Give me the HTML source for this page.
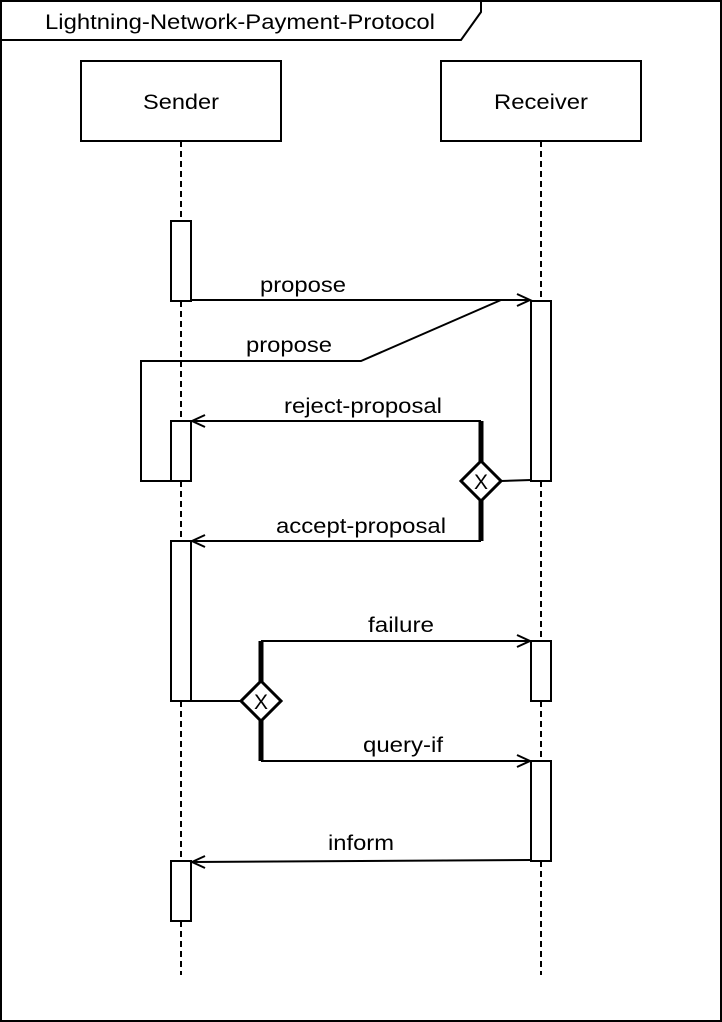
<!DOCTYPE html>
<html><head><style>body{margin:0;background:#fff}svg{display:block}</style></head><body>
<svg width="722" height="1022" xmlns="http://www.w3.org/2000/svg" font-family="Liberation Sans, Arial, sans-serif" font-size="21" fill="none" stroke="#000" stroke-width="2">
<rect x="1" y="1" width="720" height="1020" fill="#fff"/>
<path d="M1 40 H461 L481 12 V1"/>
<g fill="#000" stroke="none" text-anchor="middle">
<text x="240" y="29" textLength="390" lengthAdjust="spacingAndGlyphs">Lightning-Network-Payment-Protocol</text>
<text x="181" y="109" textLength="76" lengthAdjust="spacingAndGlyphs">Sender</text>
<text x="541" y="109" textLength="94" lengthAdjust="spacingAndGlyphs">Receiver</text>
<text x="303" y="292" textLength="86" lengthAdjust="spacingAndGlyphs">propose</text>
<text x="289" y="352" textLength="86" lengthAdjust="spacingAndGlyphs">propose</text>
<text x="363" y="413" textLength="158" lengthAdjust="spacingAndGlyphs">reject-proposal</text>
<text x="361" y="533" textLength="170" lengthAdjust="spacingAndGlyphs">accept-proposal</text>
<text x="401" y="632" textLength="66" lengthAdjust="spacingAndGlyphs">failure</text>
<text x="403" y="752" textLength="80" lengthAdjust="spacingAndGlyphs">query-if</text>
<text x="361" y="850" textLength="66" lengthAdjust="spacingAndGlyphs">inform</text>
</g>
<rect x="81" y="61" width="200" height="80"/>
<rect x="441" y="61" width="200" height="80"/>
<g stroke-dasharray="6,4">
<line x1="181" y1="141" x2="181" y2="975"/>
<line x1="541" y1="141" x2="541" y2="975"/>
</g>
<g fill="#fff">
<rect x="171" y="221" width="20" height="80"/>
<rect x="531" y="301" width="20" height="180"/>
<path d="M501 300 L361 361 H141 V481 H171" fill="none"/>
<rect x="171" y="421" width="20" height="60"/>
<rect x="171" y="541" width="20" height="160"/>
<rect x="531" y="641" width="20" height="60"/>
<rect x="531" y="761" width="20" height="100"/>
<rect x="171" y="861" width="20" height="60"/>
</g>
<path d="M191 300 H530 M517 294 L530 300 L517 306"/>
<path d="M481 421 H192 M205 415 L192 421 L205 427"/>
<path d="M481 541 H192 M205 535 L192 541 L205 547"/>
<path d="M501 481 L531 480"/>
<line x1="481" y1="421" x2="481" y2="465" stroke-width="5"/>
<line x1="481" y1="497" x2="481" y2="541" stroke-width="5"/>
<path d="M481 461 L501 481 L481 501 L461 481 Z" fill="#fff" stroke-width="3"/>
<text x="481" y="489" font-size="21" fill="#000" stroke="none" text-anchor="middle">X</text>
<path d="M191 701 H241"/>
<path d="M261 641 H530 M517 635 L530 641 L517 647"/>
<path d="M261 761 H530 M517 755 L530 761 L517 767"/>
<line x1="261" y1="641" x2="261" y2="685" stroke-width="5"/>
<line x1="261" y1="717" x2="261" y2="761" stroke-width="5"/>
<path d="M261 681 L281 701 L261 721 L241 701 Z" fill="#fff" stroke-width="3"/>
<text x="261" y="709" font-size="21" fill="#000" stroke="none" text-anchor="middle">X</text>
<path d="M531 860 L192 862 M205 856 L192 862 L205 868"/>
</svg>
</body></html>
